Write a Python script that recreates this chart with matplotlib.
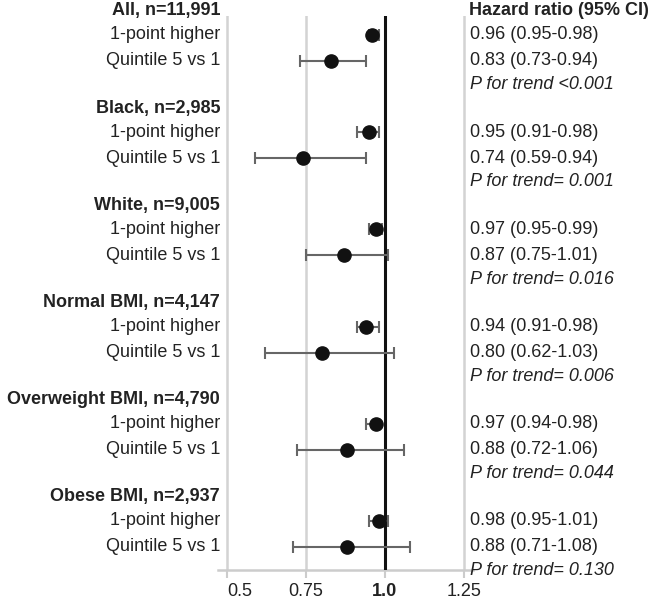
import matplotlib
matplotlib.use("Agg")
from matplotlib import pyplot as plt
from matplotlib import transforms

plt.rcParams['font.family'] = ['Liberation Sans', 'DejaVu Sans']

groups = ["All, n=11,991", "Black, n=2,985", "White, n=9,005",
          "Normal BMI, n=4,147", "Overweight BMI, n=4,790", "Obese BMI, n=2,937"]
rows = ["1-point higher", "Quintile 5 vs 1"]

# hazard ratio, lower, upper for each group: [1-point, quintile]
hr = [[0.96, 0.83], [0.95, 0.74], [0.97, 0.87], [0.94, 0.80], [0.97, 0.88], [0.98, 0.88]]
lo = [[0.95, 0.73], [0.91, 0.59], [0.95, 0.75], [0.91, 0.62], [0.94, 0.72], [0.95, 0.71]]
hi = [[0.98, 0.94], [0.98, 0.94], [0.99, 1.01], [0.98, 1.03], [0.98, 1.06], [1.01, 1.08]]
p_trend = [" <0.001", "= 0.001", "= 0.016", "= 0.006", "= 0.044", "= 0.130"]

xticks = [0.5, 0.75, 1.0, 1.25]
xticklabels = ["0.5", "0.75", "1.0", "1.25"]

W, H = 649, 602
fig = plt.figure(figsize=(W / 100, H / 100), dpi=100)
ax = fig.add_axes([218 / W, 1 - 570 / H, (473 - 218) / W, (570 - 16) / H])

slot = [0, 1.07, 2.14, 3.12]  # header, 1-point, quintile, p-trend
step = 4
txt = "#222222"
trans = transforms.blended_transform_factory(fig.transFigure, ax.transData)

for g, name in enumerate(groups):
    y0 = g * step
    ax.text(220 / W, y0 + slot[0] + 0.08, name, transform=trans, ha="right", va="center",
            fontsize=13, fontweight="bold", color=txt, clip_on=False)
    for k, lab in enumerate(rows):
        y = y0 + slot[k + 1]
        ax.text(220 / W, y, lab, transform=trans, ha="right", va="center",
                fontsize=13, color=txt, clip_on=False)
        ax.errorbar(hr[g][k], y, xerr=[[hr[g][k] - lo[g][k]], [hi[g][k] - hr[g][k]]],
                    fmt="o", color="#111111", ecolor="#666666", elinewidth=1.5,
                    capsize=4, capthick=1.5, markersize=9.5, zorder=5, clip_on=False)
        ax.text(470 / W, y, f"{hr[g][k]:.2f} ({lo[g][k]:.2f}-{hi[g][k]:.2f})",
                transform=trans, ha="left", va="center", fontsize=13, color=txt,
                clip_on=False)
    ax.text(470 / W, y0 + slot[3], f"P for trend{p_trend[g]}", transform=trans,
            ha="left", va="center", fontsize=13, style="italic", color=txt,
            clip_on=False)

ax.text(469 / W, slot[0] + 0.08, "Hazard ratio (95% CI)", transform=trans, ha="left",
        va="center", fontsize=13, fontweight="bold", color=txt, clip_on=False)

for xv in xticks:
    if xv == 1.0:
        ax.axvline(xv, color="#111111", linewidth=2.2, zorder=3)
    else:
        ax.axvline(xv, color="#d3d3d3", linewidth=1.8, zorder=1)

ax.set_xlim(0.4715, 1.2785)
ax.set_ylim(23.09, 0.29)
ax.set_yticks([])
for s in ["top", "left", "right"]:
    ax.spines[s].set_visible(False)
ax.spines["bottom"].set_color("#cccccc")
ax.spines["bottom"].set_linewidth(1.8)
ax.set_xticks(xticks)
ax.set_xticklabels(xticklabels, fontsize=13, color=txt)
ax.tick_params(axis="x", length=6, width=1.5, color="#cccccc", pad=3)
labels = ax.get_xticklabels()
labels[0].set_ha("left")
labels[2].set_fontweight("bold")

fig.savefig("out.png", dpi=100)
